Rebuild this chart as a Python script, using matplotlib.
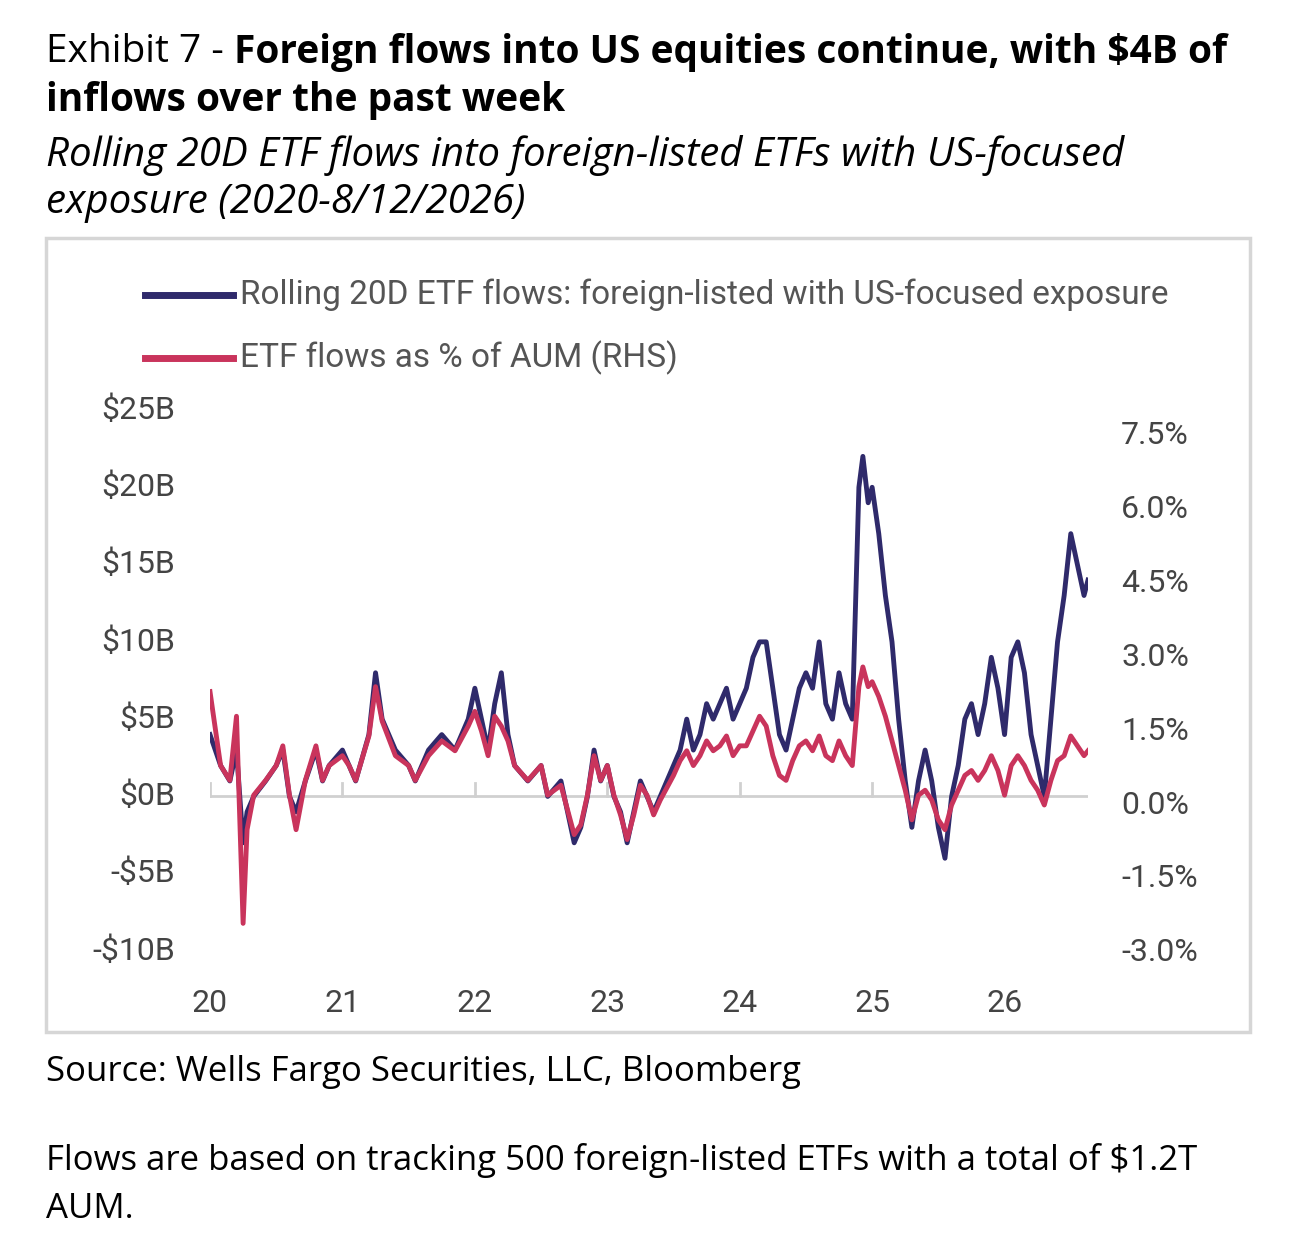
import matplotlib
matplotlib.use("Agg")
import matplotlib.pyplot as plt
from matplotlib.patches import Rectangle
from matplotlib.lines import Line2D

years = [0.0,0.08,0.15,0.2,0.25,0.28,0.33,0.42,0.5,0.55,0.6,0.65,0.72,0.8,0.85,0.9,1.0,1.05,1.1,1.2,1.25,1.3,1.4,1.5,1.55,1.65,1.75,1.85,1.95,2.0,2.05,2.1,2.15,2.2,2.25,2.3,2.4,2.5,2.55,2.65,2.75,2.8,2.85,2.9,2.95,3.0,3.05,3.1,3.15,3.2,3.25,3.3,3.35,3.4,3.5,3.55,3.6,3.65,3.7,3.75,3.8,3.85,3.9,3.95,4.0,4.05,4.1,4.15,4.2,4.25,4.3,4.35,4.4,4.45,4.5,4.55,4.6,4.65,4.7,4.75,4.8,4.85,4.9,4.93,4.97,5.0,5.05,5.1,5.15,5.2,5.25,5.3,5.35,5.4,5.45,5.5,5.55,5.6,5.65,5.7,5.75,5.8,5.85,5.9,5.95,6.0,6.05,6.1,6.15,6.2,6.25,6.3,6.35,6.4,6.45,6.5,6.55,6.6,6.63]
flows_b = [4,2,1,3,-3,-1,0,1,2,3,0,-1,1,3,1,2,3,2,1,4,8,5,3,2,1,3,4,3,5,7,5,3,6,8,4,2,1,2,0,1,-3,-2,0,3,1,2,0,-1,-3,-1,1,0,-1,0,2,3,5,3,4,6,5,6,7,5,6,7,9,10,10,7,4,3,5,7,8,7,10,6,5,8,6,5,20,22,19,20,17,13,10,5,1,-2,1,3,1,-2,-4,0,2,5,6,4,6,9,7,4,9,10,8,4,2,0,5,10,13,17,15,13,14]
pct_aum = [2.3,0.8,0.5,1.8,-2.4,-0.5,0.2,0.5,0.8,1.2,0.2,-0.5,0.5,1.2,0.5,0.8,1.0,0.8,0.5,1.4,2.4,1.7,1.0,0.8,0.5,1.0,1.3,1.1,1.6,1.9,1.5,1.0,1.8,1.6,1.3,0.8,0.5,0.8,0.2,0.4,-0.6,-0.4,0.2,1.0,0.5,0.8,0.2,-0.2,-0.7,-0.2,0.4,0.2,-0.2,0.1,0.6,0.9,1.1,0.8,1.0,1.3,1.1,1.2,1.4,1.0,1.2,1.2,1.5,1.8,1.6,1.0,0.6,0.5,0.9,1.2,1.3,1.1,1.4,1.0,0.9,1.3,1.0,0.8,2.4,2.8,2.4,2.5,2.2,1.8,1.3,0.8,0.3,-0.3,0.2,0.3,0.1,-0.3,-0.5,0.0,0.3,0.6,0.7,0.5,0.7,1.0,0.7,0.2,0.8,1.0,0.8,0.5,0.3,0.0,0.5,0.9,1.0,1.4,1.2,1.0,1.1]
x_ticks = [0,1,2,3,4,5,6]
x_labels = ["20","21","22","23","24","25","26"]
left_ticks = [25,20,15,10,5,0,-5,-10]
left_labels = ["$25B","$20B","$15B","$10B","$5B","$0B","-$5B","-$10B"]
right_ticks = [7.5,6.0,4.5,3.0,1.5,0.0,-1.5,-3.0]
right_labels = ["7.5%","6.0%","4.5%","3.0%","1.5%","0.0%","-1.5%","-3.0%"]

W, H = 1302, 1258
BLUE = "#2f2a6b"; RED = "#c9345c"; GRAY = "#444444"
fig = plt.figure(figsize=(W/100, H/100), dpi=100)
fig.patch.set_facecolor("white")
def fx(p): return p / W
def fy(p): return 1 - p / H

fig.patches.append(Rectangle((fx(46), fy(1032)), fx(1250)-fx(46), fy(238)-fy(1032),
                             transform=fig.transFigure, fill=False, ec="#d6d6d6", lw=2.5))

tf = "Open Sans"
t1 = fig.text(fx(46), fy(52), "Exhibit 7 - ", fontsize=28, family=tf, va="center")
fig.canvas.draw()
bb = t1.get_window_extent()
fig.text(bb.x1 / W, fy(52), "Foreign flows into US equities continue, with $4B of",
         fontsize=28, family=tf, weight="bold", va="center")
fig.text(fx(46), fy(101), "inflows over the past week", fontsize=28, family=tf, weight="bold", va="center")
fig.text(fx(46), fy(155), "Rolling 20D ETF flows into foreign-listed ETFs with US-focused",
         fontsize=29, family=tf, style="italic", va="center")
fig.text(fx(46), fy(203), "exposure (2020-8/12/2026)", fontsize=29, family=tf, style="italic", va="center")
fig.text(fx(46), fy(1072), "Source: Wells Fargo Securities, LLC, Bloomberg", fontsize=25, family=tf, va="center")
fig.text(fx(46), fy(1160), "Flows are based on tracking 500 foreign-listed ETFs with a total of $1.2T",
         fontsize=25, family=tf, va="center")
fig.text(fx(46), fy(1209), "AUM.", fontsize=25, family=tf, va="center")

for yy, c, lab in [(295, BLUE, "Rolling 20D ETF flows: foreign-listed with US-focused exposure"),
                   (358, RED, "ETF flows as % of AUM (RHS)")]:
    fig.lines.append(Line2D([fx(145), fx(233)], [fy(yy), fy(yy)], transform=fig.transFigure, color=c, lw=5))
    fig.text(fx(240), fy(yy), lab, fontsize=24, family="Roboto", color="#555555", va="center")

ax = fig.add_axes([fx(210), fy(951), fx(1088)-fx(210), fy(410)-fy(951)])
ax.set_xlim(0, 6.63)
ax.set_ylim(-10, 25)
for s in ax.spines.values():
    s.set_visible(False)
ax.set_xticks([]); ax.set_yticks([])
ax.axhline(0, color="#d0d0d0", lw=2, zorder=0)
for t, l in zip(x_ticks, x_labels):
    ax.plot([t, t], [0, 0.9], color="#d0d0d0", lw=2, zorder=0)
    ax.text(t, -13.4, l, ha="center", va="center", fontsize=23, family="Roboto", color=GRAY)
for v, l in zip(left_ticks, left_labels):
    ax.text(-0.26, v, l, ha="right", va="center", fontsize=23, family="Roboto", color=GRAY)
ax.plot(years, flows_b, color=BLUE, lw=3.5, zorder=2)

ax2 = ax.twinx()
ax2.set_xlim(0, 6.63)
ax2.set_ylim(-2.96, 8.01)
for s in ax2.spines.values():
    s.set_visible(False)
ax2.set_yticks([])
ax2.plot(years, pct_aum, color=RED, lw=3.5, zorder=3)
for v, l in zip(right_ticks, right_labels):
    ax2.text(6.63 + 0.25, v, l, ha="left", va="center", fontsize=23, family="Roboto", color=GRAY)

fig.savefig("out.png", dpi=100, facecolor="white")
